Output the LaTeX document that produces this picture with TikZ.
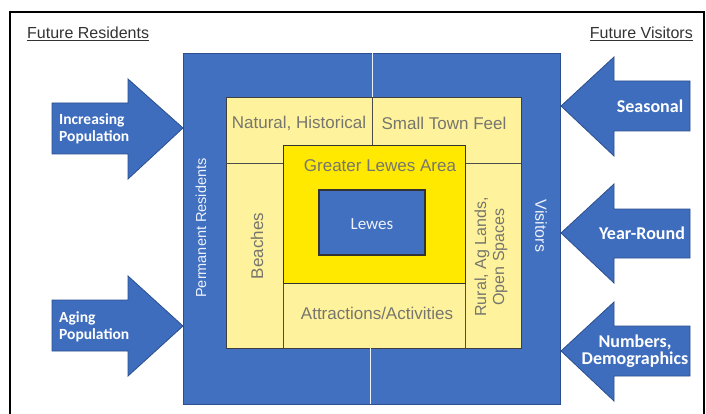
\documentclass[tikz,border=0pt]{standalone}
\usepackage{fontspec}
\setmainfont{Liberation Sans}
\newfontfamily\calibri{Carlito}
\definecolor{bandblue}{HTML}{4170C0}
\definecolor{arrowblue}{HTML}{3F6DBE}
\definecolor{edgeblue}{HTML}{2B4F8E}
\definecolor{paleyellow}{HTML}{FFF29C}
\definecolor{brightyellow}{HTML}{FFE900}
\definecolor{graytext}{HTML}{76766E}
\definecolor{whitetext}{HTML}{EEF2FA}
\tikzset{
  bandbox/.style={fill=bandblue, draw=edgeblue, line width=0.8pt},
  arrowshape/.style={fill=arrowblue, draw=edgeblue, line width=0.8pt},
  yellowbox/.style={fill=paleyellow, draw=black!75, line width=0.8pt},
  innerbox/.style={fill=brightyellow, draw=black!80, line width=1pt},
  lewesbox/.style={fill=bandblue, draw=black!80, line width=1.5pt},
  darkdiv/.style={draw=black!70, line width=0.7pt},
  whitediv/.style={draw=white!90!bandblue, line width=0.9pt},
  arrowtext/.style={text=white, font=\calibri\bfseries\fontsize{15.5}{17}\selectfont, inner sep=0pt},
  arrowtextR/.style={text=white, font=\calibri\bfseries\fontsize{18}{17}\selectfont, inner sep=0pt, align=center},
  graylabel/.style={text=graytext, font=\fontsize{17}{19}\selectfont, inner sep=0pt},
  bandlabel/.style={text=whitetext, font=\fontsize{14.5}{17}\selectfont, inner sep=0pt},
  heading/.style={text=black!80, font=\fontsize{16}{18}\selectfont, inner sep=0pt}
}
\begin{document}
\begin{tikzpicture}[x=1pt, y=-1pt]
\useasboundingbox (0,0) rectangle (706,414);
\fill[white] (0,0) rectangle (706,414);
% frame
\draw[line width=2.4pt, black] (10,420) -- (10,12) -- (704,12) -- (704,420);
% headings
\node[heading, anchor=west] (fr) at (27,34) {\underline{Future Residents}};
\node[heading, anchor=east] (fv) at (693,34) {\underline{Future Visitors}};
% blue square
\path[bandbox] (183,53) rectangle (560,404);
\path[yellowbox] (226,97) rectangle (521,348);
\draw[whitediv] (372,53) -- (372,97);
\draw[whitediv] (370,348) -- (370,404);
\draw[darkdiv] (372,97) -- (372,146);
\draw[darkdiv] (226,163) -- (283,163);
\draw[darkdiv] (465,163) -- (521,163);
\draw[darkdiv] (283,283) -- (283,348);
\draw[darkdiv] (465,283) -- (465,348);
\path[innerbox] (283,146) rectangle (465,283);
\path[lewesbox] (319,190) rectangle (425,255);
% arrows
\path[arrowshape] (52,103) -- (128,103) -- (128,79) -- (183,128) -- (128,179) -- (128,154) -- (52,154) -- cycle;
\path[arrowshape] (52,300) -- (128,300) -- (128,276) -- (183,326) -- (128,376) -- (128,351) -- (52,351) -- cycle;
\path[arrowshape] (690,81) -- (614,81) -- (614,57) -- (561,106) -- (614,156) -- (614,131) -- (690,131) -- cycle;
\path[arrowshape] (690,209) -- (614,209) -- (614,184) -- (561,233) -- (614,283) -- (614,258) -- (690,258) -- cycle;
\path[arrowshape] (690,326) -- (614,326) -- (614,302) -- (561,351) -- (614,401) -- (614,376) -- (690,376) -- cycle;
% arrow labels
\node[arrowtext, anchor=west, align=left] (inc) at (59,129) {Increasing\\Population};
\node[arrowtext, anchor=west, align=left] (age) at (59,327) {Aging\\Population};
\node[arrowtextR] (sea) at (650,106) {Seasonal};
\node[arrowtextR] (yr) at (642,233) {Year-Round};
\node[arrowtextR] (num) at (635,351) {Numbers,\\Demographics};
% band labels
\node[bandlabel, rotate=90] (perm) at (201,228) {Permanent Residents};
\node[bandlabel, rotate=-90, font=\fontsize{16}{18}\selectfont] (vis) at (541,226) {Visitors};
% yellow labels
\node[graylabel] (nat) at (299,123) {Natural, Historical};
\node[graylabel] (stf) at (444,123) {Small Town Feel};
\node[graylabel, rotate=90] (bea) at (257,246) {Beaches};
\node[graylabel, rotate=90, align=center, font=\fontsize{16}{18}\selectfont] (rur) at (491,257) {Rural, Ag Lands,\\Open Spaces};
\node[graylabel] (att) at (377,313) {Attractions/Activities};
\node[graylabel] (gla) at (380,166) {Greater Lewes Area};
\node[text=whitetext, font=\calibri\fontsize{17}{19}\selectfont, inner sep=0pt] (lew) at (372,224) {Lewes};
\end{tikzpicture}
\end{document}
